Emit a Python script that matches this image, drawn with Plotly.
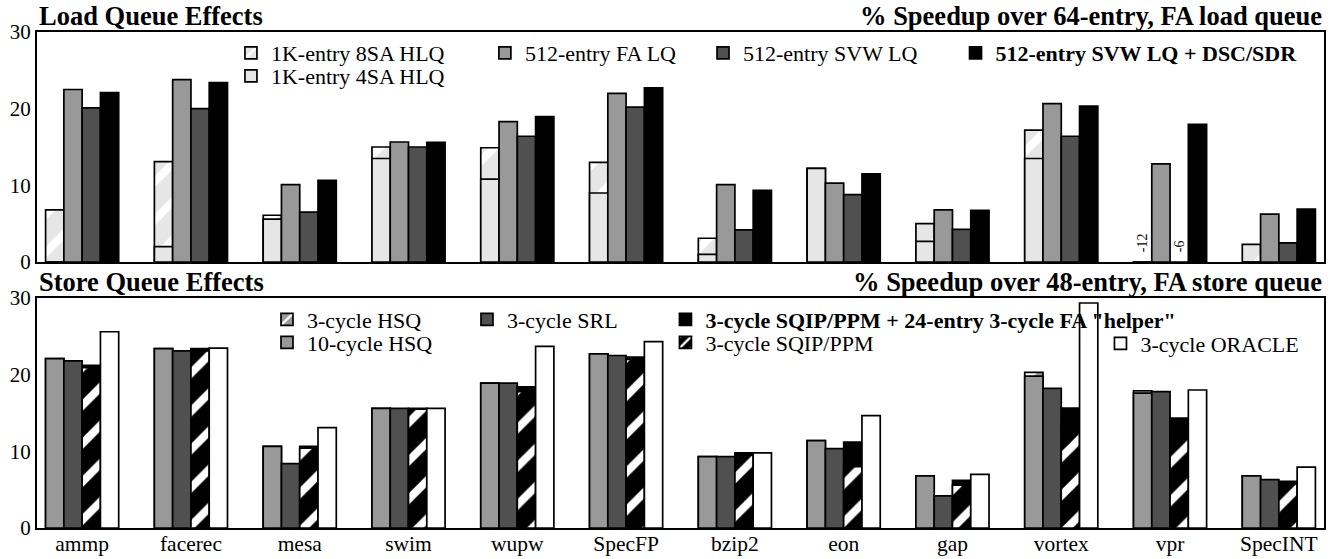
import plotly.graph_objects as go

# ---------------- data ----------------
categories = ["ammp", "facerec", "mesa", "swim", "wupw", "SpecFP",
              "bzip2", "eon", "gap", "vortex", "vpr", "SpecINT"]

# Load queue effects (% speedup over 64-entry FA load queue)
lq_8sa_hlq = [6.8, 13.1, 6.1, 15.0, 14.9, 13.0, 3.1, 12.2, 5.0, 17.2, -12, 2.3]
lq_4sa_hlq = [0.0, 2.0, 5.6, 13.5, 10.8, 9.0, 1.0, 12.2, 2.7, 13.5, -12, 0.0]
lq_512_fa = [22.5, 23.8, 10.1, 15.65, 18.3, 22.0, 10.1, 10.3, 6.8, 20.65, 12.8, 6.25]
lq_512_svw = [20.1, 20.0, 6.5, 15.0, 16.4, 20.2, 4.2, 8.8, 4.25, 16.4, -6, 2.5]
lq_512_svw_dsc = [22.1, 23.4, 10.65, 15.6, 18.95, 22.7, 9.35, 11.5, 6.75, 20.35, 17.95, 6.9]

# Store queue effects (% speedup over 48-entry FA store queue)
sq_hsq3 = [22.1, 23.4, 10.65, 15.6, 18.9, 22.7, 9.3, 11.4, 6.8, 20.3, 17.9, 6.8]
sq_hsq10 = [22.1, 23.4, 10.65, 15.6, 18.9, 22.7, 9.3, 11.4, 6.8, 19.8, 17.6, 6.8]
sq_srl = [21.8, 23.1, 8.4, 15.6, 18.9, 22.5, 9.3, 10.35, 4.2, 18.2, 17.8, 6.3]
sq_sqip_helper = [21.2, 23.4, 10.65, 15.6, 18.4, 22.3, 9.8, 11.2, 6.2, 15.65, 14.35, 6.1]
sq_sqip = [20.9, 23.1, 10.4, 15.5, 17.8, 22.0, 9.5, 8.0, 5.6, 13.6, 12.2, 5.8]
sq_oracle = [25.6, 23.45, 13.1, 15.6, 23.7, 24.3, 9.8, 14.65, 7.0, 29.35, 18.0, 7.95]

yticks = [0, 10, 20, 30]

# ---------------- styling ----------------
FONT = "Liberation Serif"
W = 0.168  # bar width in category units
LIGHT = "#e6e6e6"
MID = "#999999"
DARK = "#505050"
PAT_SIZE = 27
PAT_SOL = 0.3


def offset(k):
    return -2 * W + k * W


fig = go.Figure()


def add_bar(vals, name, k, xa, ya, legend, color, pattern=None):
    marker = dict(color=color, line=dict(color="black", width=1.7))
    if pattern is not None:
        marker["pattern"] = pattern
    fig.add_trace(go.Bar(
        x=categories, y=vals, name=name, offset=offset(k), width=W,
        xaxis=xa, yaxis=ya, legend=legend, marker=marker,
        hoverinfo="x+y+name",
    ))


def stripes(bg):
    return dict(shape="/", fgcolor="white", bgcolor=bg, size=PAT_SIZE,
                solidity=PAT_SOL, fillmode="replace")


# top panel
add_bar(lq_8sa_hlq, "1K-entry 8SA HLQ", 0, "x", "y", "legend", LIGHT, stripes(LIGHT))
add_bar(lq_4sa_hlq, "1K-entry 4SA HLQ", 0, "x", "y", "legend9", LIGHT)
add_bar(lq_512_fa, "512-entry FA LQ", 1, "x", "y", "legend2", MID)
add_bar(lq_512_svw, "512-entry SVW LQ", 2, "x", "y", "legend3", DARK)
add_bar(lq_512_svw_dsc, "<b>512-entry SVW LQ + DSC/SDR</b>", 3, "x", "y", "legend4", "black")

# bottom panel
add_bar(sq_hsq3, "3-cycle HSQ", 0, "x2", "y2", "legend5", MID, stripes(MID))
add_bar(sq_hsq10, "10-cycle HSQ", 0, "x2", "y2", "legend10", MID)
add_bar(sq_srl, "3-cycle SRL", 1, "x2", "y2", "legend6", DARK)
add_bar(sq_sqip_helper, "<b>3-cycle SQIP/PPM + 24-entry 3-cycle FA \"helper\"</b>", 2,
        "x2", "y2", "legend7", "black")
add_bar(sq_sqip, "3-cycle SQIP/PPM", 2, "x2", "y2", "legend11", "black", stripes("black"))
add_bar(sq_oracle, "3-cycle ORACLE", 3, "x2", "y2", "legend8", "white")

# labels for off-scale negative values (top panel)
annotations = []
for series, k in ((lq_8sa_hlq, 0), (lq_512_svw, 2)):
    for i, v in enumerate(series):
        if v < 0:
            annotations.append(dict(
                x=i + offset(k) + W / 2, y=0, xref="x", yref="y",
                text=f"{v:g}", textangle=-90, showarrow=False,
                yanchor="bottom", xanchor="center", yshift=8,
                font=dict(family=FONT, size=14, color="black")))

TOP_DOM = [0.5363, 1.0]
BOT_DOM = [0.0, 0.4637]
title_font = dict(family=FONT, size=26.5, color="black")
for txt, x, xa, y in (
        ("<b>Load Queue Effects</b>", 0, "left", TOP_DOM[1]),
        ("<b>% Speedup over 64-entry, FA load queue</b>", 1, "right", TOP_DOM[1]),
        ("<b>Store Queue Effects</b>", 0, "left", BOT_DOM[1]),
        ("<b>% Speedup over 48-entry, FA store queue</b>", 1, "right", BOT_DOM[1])):
    annotations.append(dict(x=x, y=y, xref="paper", yref="paper", text=txt,
                            showarrow=False, xanchor=xa, yanchor="bottom",
                            yshift=-1, font=title_font))

axis_common = dict(showline=True, linecolor="black", linewidth=2, mirror=True,
                   showgrid=False, zeroline=False, ticks="", ticklen=0,
                   automargin=False)
xrange = [-0.415, len(categories) - 1 + 0.415]

legend_font = dict(family=FONT, size=22, color="black")


def leg(x, y):
    return dict(x=x, y=y, xanchor="left", yanchor="top", font=legend_font,
                bgcolor="rgba(0,0,0,0)", borderwidth=0, traceorder="normal",
                tracegroupgap=0)


fig.update_layout(
    width=1336, height=559,
    margin=dict(l=37, r=12, t=32, b=31, autoexpand=False),
    paper_bgcolor="white", plot_bgcolor="white",
    barmode="overlay",
    font=dict(family=FONT, size=21, color="black"),
    showlegend=True,
    xaxis=dict(axis_common, domain=[0, 1], anchor="y", range=xrange,
               showticklabels=False, type="category"),
    yaxis=dict(axis_common, domain=TOP_DOM, anchor="x", range=[0, 30],
               tickvals=yticks, tickfont=dict(family=FONT, size=21)),
    xaxis2=dict(axis_common, domain=[0, 1], anchor="y2", range=xrange,
                type="category", tickfont=dict(family=FONT, size=21.5),
                ticklabelstandoff=-5),
    yaxis2=dict(axis_common, domain=BOT_DOM, anchor="x2", range=[0, 30],
                tickvals=yticks, tickfont=dict(family=FONT, size=21)),
    legend=leg(0.1507, 1.0),
    legend9=leg(0.1507, 0.9536),
    legend2=leg(0.348, 1.0),
    legend3=leg(0.5175, 1.0),
    legend4=leg(0.7137, 1.0),
    legend5=leg(0.1787, 0.4627),
    legend10=leg(0.1787, 0.4163),
    legend6=leg(0.3341, 0.4627),
    legend7=leg(0.4883, 0.4627),
    legend11=leg(0.4883, 0.4163),
    legend8=leg(0.8263, 0.4143),
    annotations=annotations,
)

fig.write_html("out.html", config={"displayModeBar": False},
               post_script="document.body.style.margin='0';document.body.style.padding='0';")
